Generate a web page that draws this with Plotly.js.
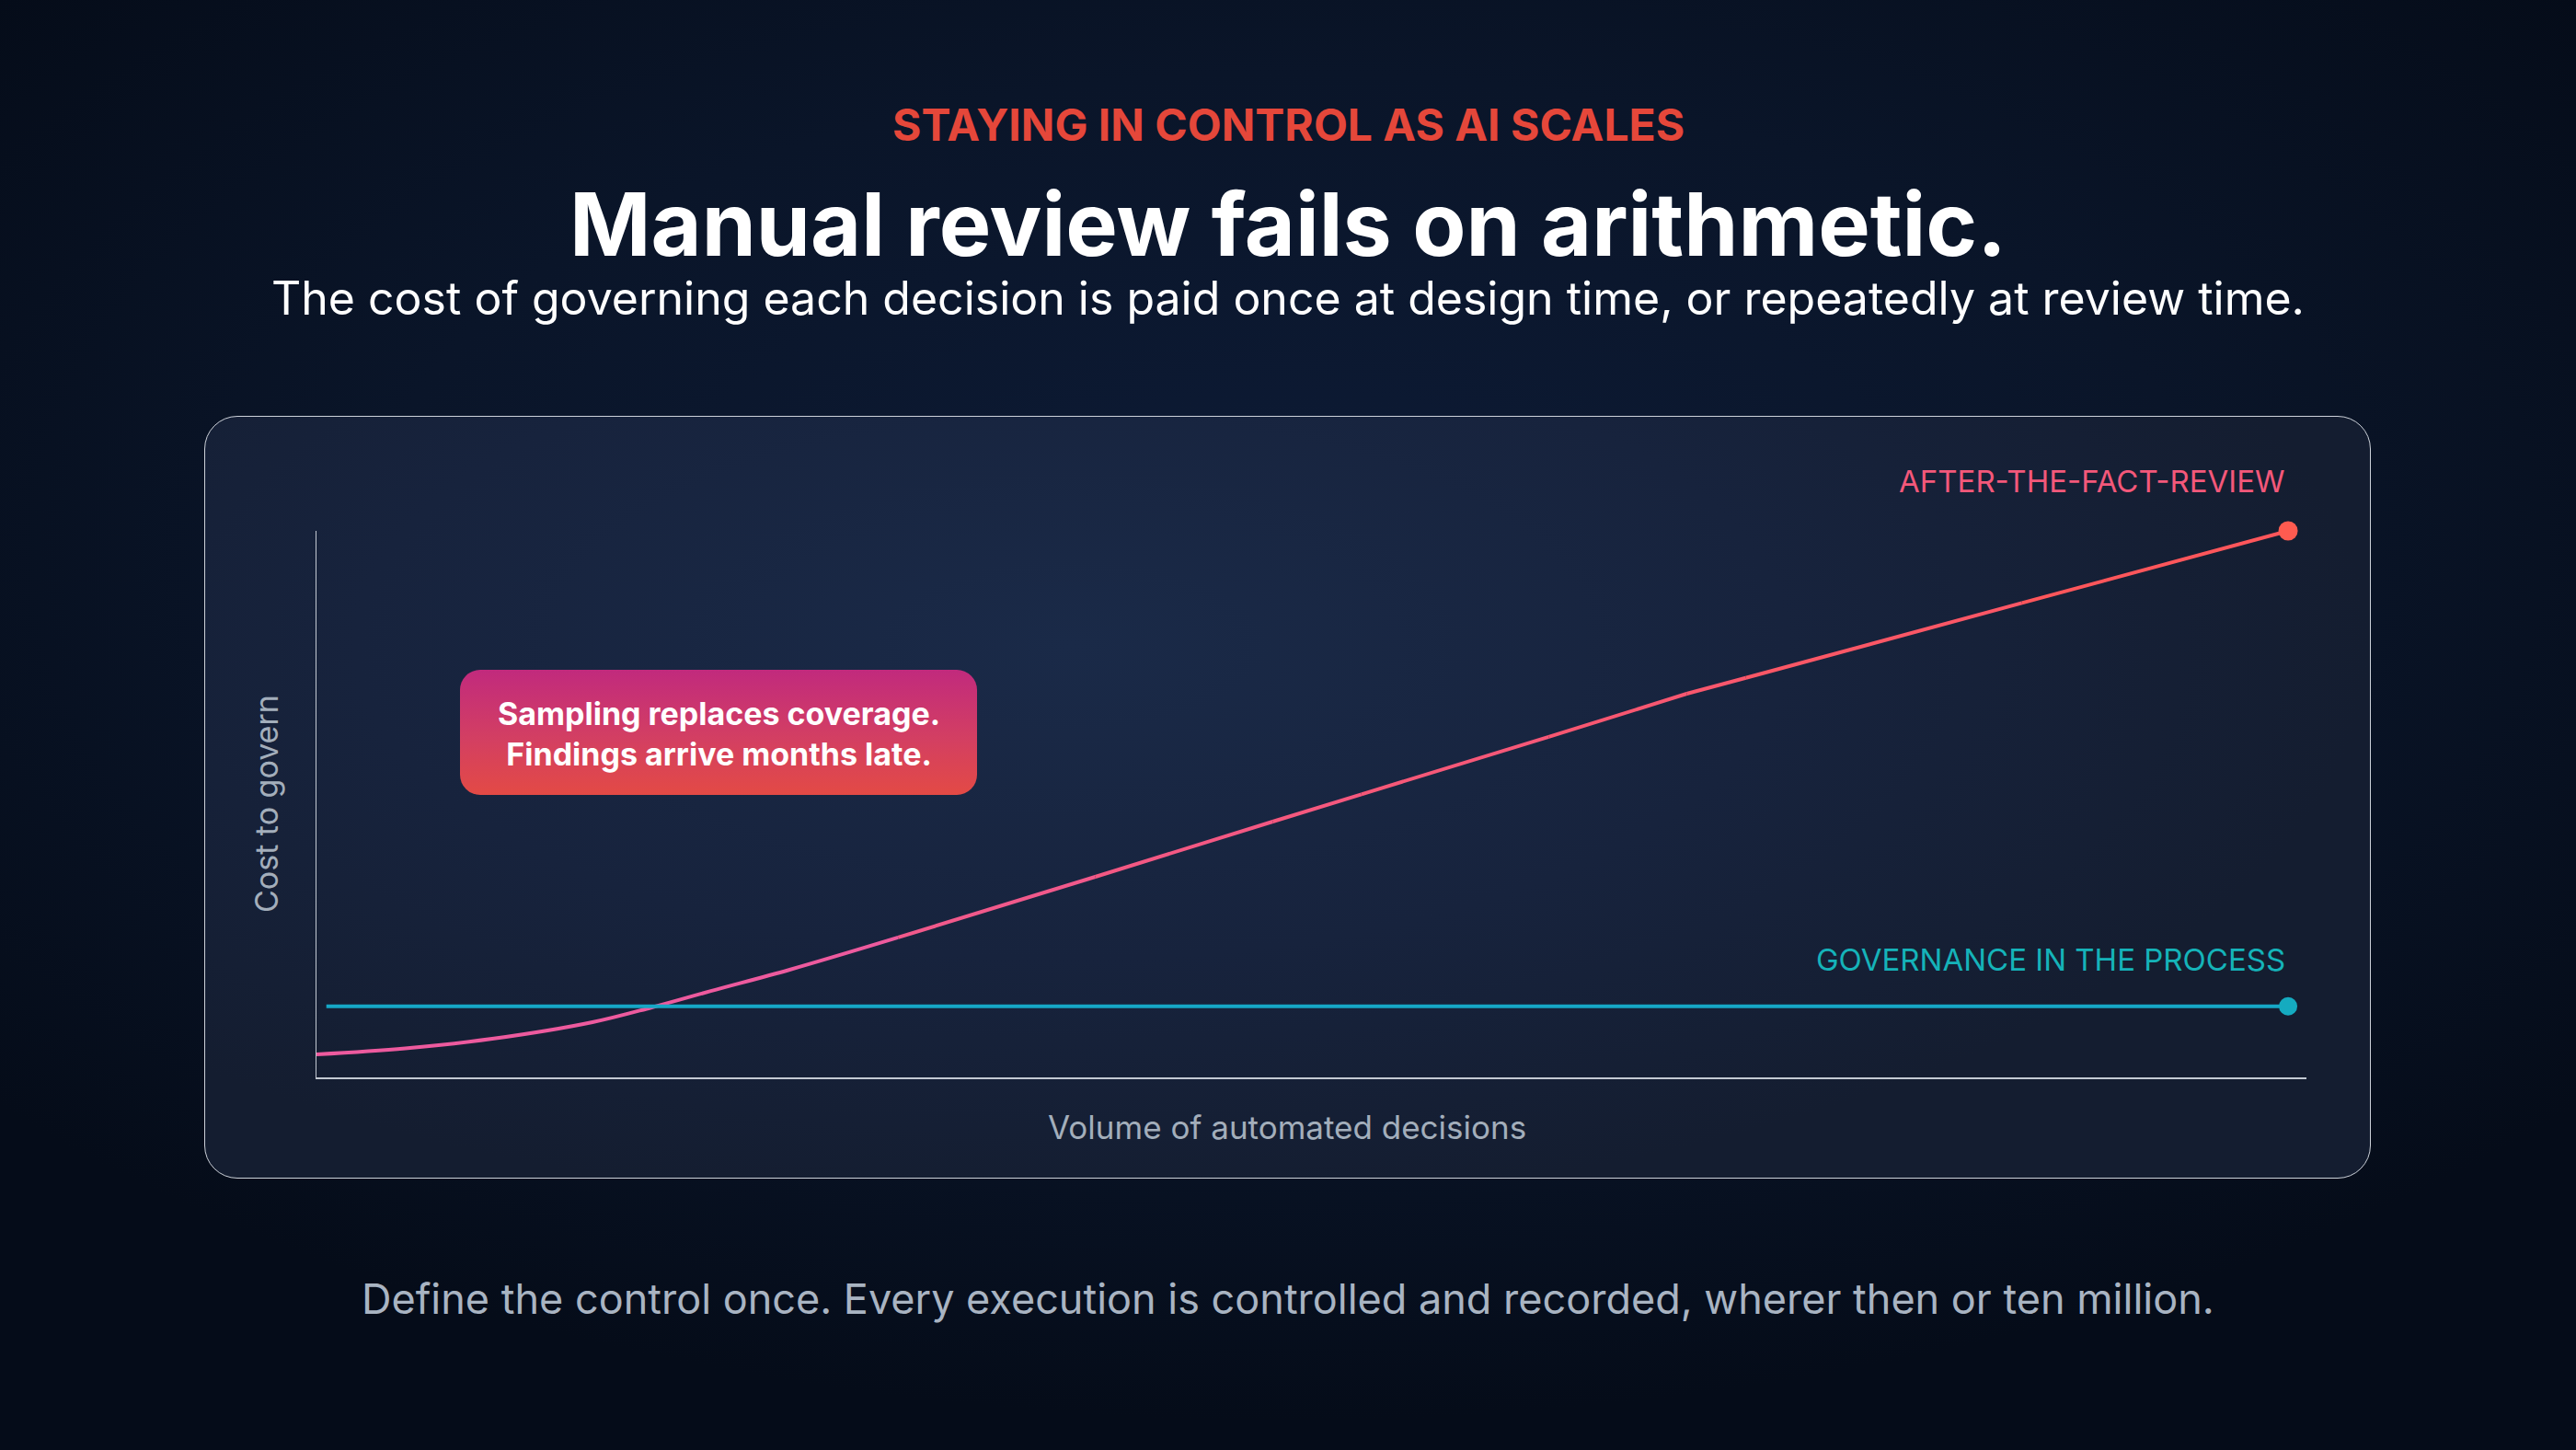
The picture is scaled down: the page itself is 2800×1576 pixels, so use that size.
<!DOCTYPE html>
<html>
<head>
<meta charset="utf-8">
<script src="https://cdn.plot.ly/plotly-3.0.1.min.js"></script>
<style>
html,body{margin:0;padding:0;width:2800px;height:1576px;overflow:hidden;
  background: radial-gradient(ellipse 65% 60% at 50% 38%, #0d1b36 0%, #0a1529 55%, #050c19 100%);}
#card{position:absolute;left:222px;top:452px;width:2355px;height:829px;box-sizing:border-box;
  border:1.5px solid #cdd2da;border-radius:36px;
  background: radial-gradient(ellipse 60% 75% at 40% 30%, #1a2a48 0%, #17233d 55%, #141d30 100%);}
#callout{position:absolute;left:500px;top:728px;width:562px;height:136px;border-radius:22px;
  background:linear-gradient(180deg,#c12a7d 0%,#d33f62 55%,#e34a45 100%);}
#chart{position:absolute;left:0;top:0;width:2800px;height:1576px;}
</style>
</head>
<body>
<div id="card"></div>
<div id="callout"></div>
<div id="chart"></div>
<script>
// ---- data ----
const volume = [0, 4.5, 9, 14, 17, 20, 24, 29.5, 39.5, 48.5, 53, 62.5, 69.5, 72.5, 86.5, 100];
const reviewCost = [4.2, 5.3, 7.1, 10.1, 12.8, 15.8, 19.7, 25.6, 36.7, 46.8, 51.8, 62.3, 70.2, 73.1, 86.8, 100];
const governVolume = [0.5, 100];
const governCost = [13, 13];
const seriesNames = ["AFTER-THE-FACT-REVIEW", "GOVERNANCE IN THE PROCESS"];
const kicker = "STAYING IN CONTROL AS AI SCALES";
const headline = "Manual review fails on arithmetic.";
const subhead = "The cost of governing each decision is paid once at design time, or repeatedly at review time.";
const footer = "Define the control once. Every execution is controlled and recorded, wherer then or ten million.";
const calloutText = ["Sampling replaces coverage.", "Findings arrive months late."];
const xTitle = "Volume of automated decisions";
const yTitle = "Cost to govern";

// ---- styling helpers ----
const FONT = "Inter, 'Open Sans', sans-serif";
function hex2rgb(h){return [parseInt(h.slice(1,3),16),parseInt(h.slice(3,5),16),parseInt(h.slice(5,7),16)];}
function mix(a,b,t){const A=hex2rgb(a),B=hex2rgb(b);return 'rgb('+A.map((v,i)=>Math.round(v+(B[i]-v)*t)).join(',')+')';}
const PINK = "#ea5aa8", RED = "#ff5655";
const curveEnd = 7; // index where the curved part turns into straight runs

const traces = [];
// curved low-volume part, smooth spline
traces.push({
  x: volume.slice(0, curveEnd + 1), y: reviewCost.slice(0, curveEnd + 1),
  type: 'scatter', mode: 'lines', hoverinfo: 'skip', showlegend: false,
  line: {color: mix(PINK, RED, 0.12), width: 4, shape: 'spline', smoothing: 1}, cliponaxis: false,
  name: seriesNames[0]
});
// straight runs, drawn in segments to mimic the pink->red gradient
for (let i = curveEnd; i < volume.length - 1; i++) {
  const t = ((volume[i] + volume[i+1]) / 2) / 100;
  traces.push({
    x: [volume[i], volume[i+1]], y: [reviewCost[i], reviewCost[i+1]],
    type: 'scatter', mode: 'lines', hoverinfo: 'skip', showlegend: false,
    line: {color: mix(PINK, RED, t), width: 4}, cliponaxis: false,
    name: seriesNames[0]
  });
}
// governance line
traces.push({
  x: governVolume, y: governCost, type: 'scatter', mode: 'lines',
  line: {color: '#16a7c6', width: 4}, hoverinfo: 'skip', showlegend: false,
  cliponaxis: false, name: seriesNames[1]
});
// end markers
traces.push({
  x: [volume[volume.length-1]], y: [reviewCost[reviewCost.length-1]],
  type: 'scatter', mode: 'markers', marker: {size: 21, color: '#ff5b50'},
  hoverinfo: 'skip', showlegend: false, cliponaxis: false
});
traces.push({
  x: [governVolume[governVolume.length-1]], y: [governCost[governCost.length-1]],
  type: 'scatter', mode: 'markers', marker: {size: 20, color: '#15abc0'},
  hoverinfo: 'skip', showlegend: false, cliponaxis: false
});

const W = 2800, H = 1576;
const px = v => v / W, py = v => 1 - v / H;

const layout = {
  width: W, height: H,
  margin: {l: 0, r: 0, t: 0, b: 0},
  paper_bgcolor: 'rgba(0,0,0,0)', plot_bgcolor: 'rgba(0,0,0,0)',
  showlegend: false,
  font: {family: FONT, color: '#ffffff'},
  title: {
    text: headline, x: 0.5, xanchor: 'center', y: py(245), yanchor: 'middle',
    font: {family: FONT, size: 95, color: '#ffffff', weight: 700}
  },
  xaxis: {
    domain: [px(344), px(2507)], range: [0, 100.93],
    showline: true, linecolor: '#c3c9d2', linewidth: 1.5,
    showgrid: false, zeroline: false, showticklabels: false, ticks: '', fixedrange: true
  },
  yaxis: {
    domain: [py(1171), py(577)], range: [0, 100],
    showline: true, linecolor: '#c3c9d2', linewidth: 1.5,
    showgrid: false, zeroline: false, showticklabels: false, ticks: '', fixedrange: true
  },
  annotations: [
    {text: kicker, xref: 'paper', yref: 'paper', x: 0.5, y: py(135), xanchor: 'center', yanchor: 'middle',
     showarrow: false, font: {family: FONT, size: 48, color: '#e5473a', weight: 700}},
    {text: subhead, xref: 'paper', yref: 'paper', x: 0.5, y: py(324), xanchor: 'center', yanchor: 'middle',
     showarrow: false, font: {family: FONT, size: 50, color: '#ffffff'}},
    {text: footer, xref: 'paper', yref: 'paper', x: 0.5, y: py(1411), xanchor: 'center', yanchor: 'middle',
     showarrow: false, font: {family: FONT, size: 45, color: '#a9b4c2'}},
    {text: seriesNames[0], xref: 'paper', yref: 'paper', x: px(2486), y: py(523), xanchor: 'right', yanchor: 'middle',
     showarrow: false, font: {family: FONT, size: 33, color: '#f3587a'}},
    {text: seriesNames[1], xref: 'paper', yref: 'paper', x: px(2486), y: py(1043), xanchor: 'right', yanchor: 'middle',
     showarrow: false, font: {family: FONT, size: 33, color: '#15b3b9'}},
    {text: calloutText.join('<br>'), xref: 'paper', yref: 'paper', x: px(781), y: py(797), xanchor: 'center', yanchor: 'middle',
     showarrow: false, align: 'center', font: {family: FONT, size: 34, color: '#ffffff', weight: 700}},
    {text: xTitle, xref: 'paper', yref: 'paper', x: px(1399), y: py(1225), xanchor: 'center', yanchor: 'middle',
     showarrow: false, font: {family: FONT, size: 35, color: '#a3aebb'}},
    {text: yTitle, xref: 'paper', yref: 'paper', x: px(289), y: py(874), xanchor: 'center', yanchor: 'middle',
     textangle: -90, showarrow: false, font: {family: FONT, size: 34, color: '#a3aebb'}}
  ]
};

Plotly.newPlot('chart', traces, layout, {staticPlot: true, displayModeBar: false});
</script>
</body>
</html>
